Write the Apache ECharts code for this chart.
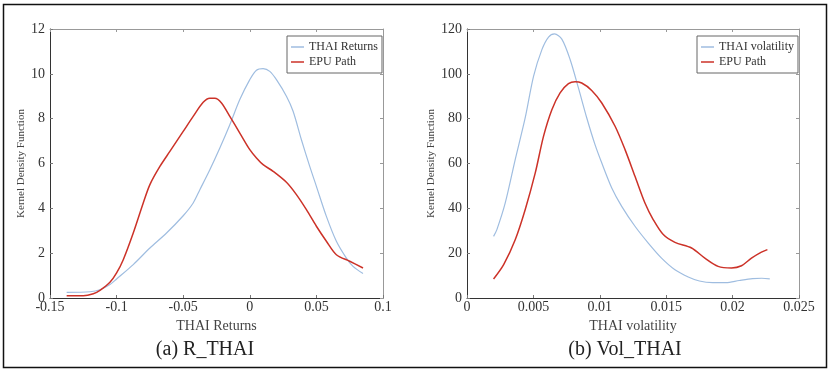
<!DOCTYPE html>
<html><head><meta charset="utf-8">
<script src="https://cdn.jsdelivr.net/npm/echarts@6/dist/echarts.min.js"></script>
<style>html,body{margin:0;padding:0;background:#fff}#c{width:831px;height:376px}</style>
</head><body><div id="c"></div>
<script>
// Panel (a) R_THAI
const retReturnsX = [-0.1375,-0.12,-0.1125,-0.105,-0.1,-0.0875,-0.075,-0.0625,-0.05,-0.0425,-0.0375,-0.03,-0.0225,-0.015,-0.0075,0,0.005,0.01,0.015,0.02,0.0275,0.0325,0.03875,0.045,0.05,0.0575,0.065,0.0725,0.0775,0.085];
const retReturnsY = [0.25,0.28,0.37,0.6,0.85,1.49,2.23,2.9,3.67,4.24,4.83,5.72,6.69,7.73,8.85,9.74,10.16,10.23,10.11,9.74,9.0,8.33,7.06,5.87,4.98,3.64,2.53,1.78,1.41,1.09];
const retEpuX = [-0.1375,-0.125,-0.1175,-0.1125,-0.105,-0.1,-0.095,-0.0875,-0.08,-0.075,-0.0675,-0.06,-0.05,-0.0425,-0.035,-0.03,-0.02625,-0.02125,-0.015,-0.0075,0,0.005,0.01,0.0175,0.0275,0.035,0.0425,0.05,0.0575,0.065,0.075,0.085];
const retEpuY = [0.1,0.1,0.19,0.34,0.7,1.12,1.71,2.9,4.24,5.06,5.87,6.54,7.43,8.1,8.73,8.91,8.91,8.7,8.1,7.36,6.62,6.25,5.95,5.65,5.16,4.61,3.94,3.2,2.53,1.93,1.64,1.34];
// Panel (b) Vol_THAI
const volX = [0.002,0.00225,0.00288,0.00363,0.00438,0.00501,0.00564,0.00614,0.00659,0.00714,0.00777,0.00839,0.00902,0.00964,0.01015,0.0109,0.01165,0.01265,0.01365,0.01465,0.01566,0.01666,0.0175,0.0185,0.0195,0.0205,0.0215,0.0222,0.0228];
const volY = [27.5,30.5,42.4,61.7,80.3,98.9,110.8,116.4,117.8,115.5,106.3,93.7,80.3,68.4,60.2,49.1,40.9,32,24.5,17.8,12.6,9.4,7.6,6.9,6.9,7.8,8.6,8.8,8.5];
const volEpuX = [0.002,0.00276,0.00363,0.00438,0.00514,0.00576,0.00639,0.00701,0.00764,0.00814,0.00864,0.00939,0.01015,0.01115,0.0119,0.01265,0.0134,0.01403,0.01478,0.01566,0.01691,0.01791,0.01891,0.01992,0.02067,0.02142,0.02217,0.02262];
const volEpuY = [8.5,14.9,26,39.4,55.8,72.1,84,91.5,95.6,96.5,95.9,92.6,87,76.6,66.2,54.3,42.4,34.9,28.3,24.8,22.3,17.8,14.1,13.4,14.4,17.8,20.5,21.6];

const seriesNames = ['THAI Returns','EPU Path','THAI volatility','EPU Path '];
const xNames = ['THAI Returns','THAI volatility'];
const yName = 'Kernel Density Function';
const captions = ['(a) R_THAI','(b) Vol_THAI'];

const zip = (a,b)=>a.map((v,i)=>[v,b[i]]);
const serif = '"Liberation Serif","DejaVu Serif",serif';
const blue = '#9fbde0', red = '#cc3228';
const fmt = v => String(+(+v).toFixed(4));

function mainX(grid, min, max, interval, name){
  return {gridIndex:grid, type:'value', min, max, interval, name, nameLocation:'middle', nameGap:18,
    nameTextStyle:{fontFamily:serif,fontSize:14,color:'#444'},
    axisLine:{onZero:false,lineStyle:{color:'#333',width:1}}, axisTick:{inside:true,length:3,lineStyle:{color:'#777'}},
    axisLabel:{fontFamily:serif,fontSize:14,color:'#333',margin:2,formatter:fmt}, splitLine:{show:false}};
}
function mirrorX(grid,min,max,interval){
  return {gridIndex:grid, type:'value', position:'top', min, max, interval,
    axisLine:{onZero:false,lineStyle:{color:'#999',width:1}}, axisTick:{inside:true,length:3,lineStyle:{color:'#999'}},
    axisLabel:{show:false}, splitLine:{show:false}};
}
function mainY(grid,min,max,interval){
  return {gridIndex:grid, type:'value', position:'left', min, max, interval, name:yName, nameLocation:'middle', nameGap:21,
    nameTextStyle:{fontFamily:serif,fontSize:11,color:'#444'},
    axisLine:{show:true,onZero:false,lineStyle:{color:'#333',width:1}}, axisTick:{show:true,inside:true,length:3,lineStyle:{color:'#777'}},
    axisLabel:{fontFamily:serif,fontSize:14,color:'#333',margin:5}, splitLine:{show:false}};
}
function mirrorY(grid,min,max,interval){
  return {gridIndex:grid, type:'value', position:'right', min, max, interval,
    axisLine:{show:true,onZero:false,lineStyle:{color:'#999',width:1}}, axisTick:{show:true,inside:true,length:3,lineStyle:{color:'#999'}},
    axisLabel:{show:false}, splitLine:{show:false}};
}
function line(name,data,color,xi,yi,w){
  return {name,type:'line',xAxisIndex:xi,yAxisIndex:yi,data,smooth:0.3,showSymbol:false,
    lineStyle:{color,width:w},itemStyle:{color},z:3};
}
function legend(names,left,width){
  return {data:names.map(n=>({name:n})), left, top:36, width, orient:'vertical', itemGap:3,
    icon:'rect', itemWidth:13, itemHeight:1.5, padding:[5,4,5,4],
    borderColor:'#666', borderWidth:1, backgroundColor:'#fff',
    textStyle:{fontFamily:serif,fontSize:12,color:'#333'}};
}
const chart = echarts.init(document.getElementById('c'),null,{renderer:'canvas'});
chart.setOption({
  animation:false,
  backgroundColor:'#fff',
  grid:[{left:50,top:29,width:333,height:269},{left:467,top:29,width:332,height:269}],
  xAxis:[mainX(0,-0.15,0.1,0.05,xNames[0]), mirrorX(0,-0.15,0.1,0.05), mainX(1,0,0.025,0.005,xNames[1]), mirrorX(1,0,0.025,0.005)],
  yAxis:[mainY(0,0,12,2), mirrorY(0,0,12,2), mainY(1,0,120,20), mirrorY(1,0,120,20)],
  legend:[
    legend([seriesNames[0],seriesNames[1]],287,92),
    legend([seriesNames[2],seriesNames[3]],697,98)
  ],
  series:[
    line(seriesNames[0],zip(retReturnsX,retReturnsY),blue,0,0,1.2),
    line(seriesNames[1],zip(retEpuX,retEpuY),red,0,0,1.5),
    line(seriesNames[2],zip(volX,volY),blue,2,2,1.2),
    line(seriesNames[3],zip(volEpuX,volEpuY),red,2,2,1.5)
  ],
  graphic:[
    {type:'rect',shape:{x:3.5,y:4.5,width:823,height:363},style:{fill:'none',stroke:'#111',lineWidth:1.5},silent:true},
    {type:'text',x:205,y:350,style:{text:captions[0],font:'20px '+serif,fill:'#222',align:'center',verticalAlign:'middle'}},
    {type:'text',x:625,y:350,style:{text:captions[1],font:'20px '+serif,fill:'#222',align:'center',verticalAlign:'middle'}}
  ]
});
</script></body></html>
